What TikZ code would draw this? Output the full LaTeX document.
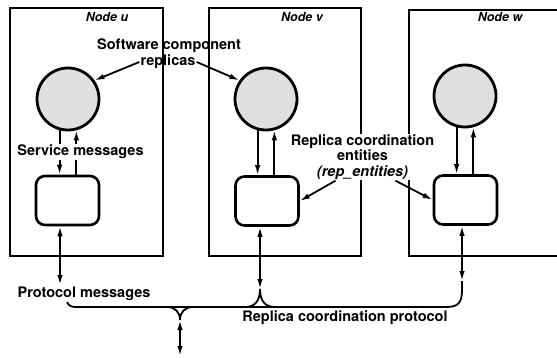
\documentclass[tikz,border=0pt]{standalone}
\usepackage{fontspec}
\setmainfont{TeX Gyre Heros}
\usetikzlibrary{arrows.meta}

\begin{document}
\begin{tikzpicture}[x=1pt,y=-1pt,
  frame/.style={line width=2.8pt},
  replica/.style={circle,draw,line width=2.8pt,fill=gray!25,minimum size=62pt,inner sep=0pt},
  entity/.style={draw,line width=2.6pt,rounded corners=9pt,minimum width=63pt,minimum height=49pt,inner sep=0pt},
  msg/.style={line width=1.8pt,-{Latex[length=10pt,width=5.5pt]}},
  both/.style={line width=1.8pt,{Latex[length=10pt,width=5.5pt]}-{Latex[length=10pt,width=5.5pt]}},
  bus/.style={line width=1.8pt},
  lbl/.style={font=\fontsize{14.5}{15.5}\selectfont\bfseries,align=center,inner sep=1pt},
  nodename/.style={font=\fontsize{12.5}{14}\selectfont\bfseries\itshape,inner sep=0pt}]
\useasboundingbox (0,0) rectangle (557,358);
% hosts
\draw[frame] (10,8) rectangle (163,256);
\draw[frame] (209,8) rectangle (361,256);
\draw[frame] (557,10) -- (409,10) -- (409,256) -- (557,256);
\node[nodename] (nameu) at (107,17) {Node u};
\node[nodename] (namev) at (302,17) {Node v};
\node[nodename] (namew) at (500,17) {Node w};
\node[lbl,fill=white] (rce) at (362.5,157) {Replica coordination\\entities\\{\itshape(rep\_entities)}};
% replicas and their coordination entities
\node[replica] (repu) at (68,99) {};
\node[replica] (repv) at (266,99) {};
\node[replica] (repw) at (465,96) {};
\node[entity] (entu) at (67.5,200.5) {};
\node[entity] (entv) at (267,201) {};
\node[entity] (entw) at (465.5,200) {};
\foreach \r/\e in {repu/entu,repv/entv,repw/entw}{
  \draw[msg] (\r.-105) -- (\r.-105 |- \e.north);
  \draw[msg] (\r.-75 |- \e.north) -- (\r.-75);
}
% protocol connections
\coordinate (pu) at (60,285);
\coordinate (pv) at (260,289);
\coordinate (pw) at (462,281);
\coordinate (pout) at (180,320);
\draw[both] (entu.south -| pu) -- (pu);
\draw[both] (entv.south -| pv) -- (pv);
\draw[both] (entw.south -| pw) -- (pw);
\draw[bus] (67,302) .. controls (69,306) and (71,307) .. (76,307) -- (446,307)
  .. controls (458,307) and (462,303) .. (462,290) -- (pw);
\draw[bus] (245,307) .. controls (254,307) and (260,302) .. (pv);
\draw[bus] (275,307) .. controls (266,307) and (260,302) .. (pv);
\draw[bus] (167,307) .. controls (175,307) and (180,312) .. (pout);
\draw[bus] (193,307) .. controls (185,307) and (180,312) .. (pout);
\draw[both] (pout) -- (180,356);
% labels
\node[lbl,fill=white] (svc) at (80.5,152) {Service messages};
\node[lbl] (sw) at (169,46) {Software component};
\node[lbl] (swrep) at (168,62) {replicas};
\node[lbl] (prot) at (84,294) {Protocol messages};
\node[lbl] (rcp) at (345,318) {Replica coordination protocol};
\draw[msg] (swrep.west) -- (repu.35);
\draw[msg] (swrep.east) -- (repv.145);
\draw[msg] ([xshift=-27pt]rce.south) -- (entv.east);
\draw[msg] ([xshift=33pt]rce.south) -- (entw.west);
\end{tikzpicture}
\end{document}
